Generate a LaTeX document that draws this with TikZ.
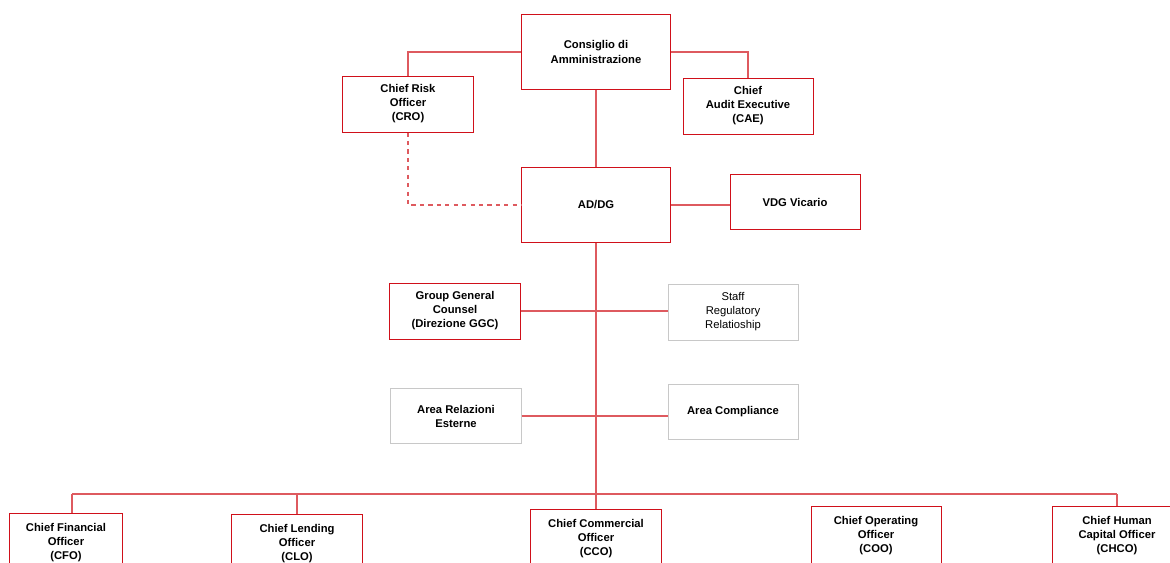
\documentclass[tikz,border=0pt]{standalone}
\usepackage{fontspec}
\setmainfont{Liberation Sans}
\definecolor{boxred}{RGB}{208,16,26}
\definecolor{linkred}{RGB}{222,90,95}
\definecolor{boxgray}{RGB}{200,200,200}

\begin{document}
\begin{tikzpicture}
	[x=0.025cm, y=-0.025cm,
	every node/.style={align=center, inner sep=2pt, fill=white, font=\fontsize{8}{10}\selectfont\bfseries},
	redbox/.style={draw=boxred, line width=0.7pt, minimum width=3.25cm, minimum height=1.4cm},
	graybox/.style={draw=boxgray, line width=0.7pt, minimum width=3.25cm, minimum height=1.4cm},
	bigbox/.style={redbox, minimum width=3.7cm, minimum height=1.875cm},
	lowbox/.style={redbox, minimum height=1.5cm},
	link/.style={draw=linkred, line width=0.8pt}]
	\useasboundingbox (0,0) rectangle (1170,562);
	\clip (0,0) rectangle (1170,562);
	\coordinate (busL) at (72,494);
	\coordinate (busR) at (1117,494);
	\draw[link] (busL) -- (busR);
	\node[bigbox] (cda) at (596,52) {Consiglio di\\Amministrazione};
	\node[redbox] (cro) at (408,104) {Chief Risk\\Officer\\(CRO)};
	\node[redbox] (cae) at (748,106) {Chief\\Audit Executive\\(CAE)};
	\node[bigbox] (ad) at (596,205) {AD/DG};
	\node[redbox, minimum height=1.375cm] (vdg) at (795,202) {VDG Vicario};
	\node[redbox] (ggc) at (455,311) {Group General\\Counsel\\(Direzione GGC)};
	\node[graybox, font=\fontsize{8}{10}\selectfont] (staff) at (733,312) {Staff\\Regulatory\\Relatioship};
	\node[graybox, minimum height=1.375cm] (ext) at (456,416) {Area Relazioni\\Esterne};
	\node[graybox, minimum height=1.375cm] (comp) at (733,412) {Area Compliance};
	\node[lowbox, minimum width=2.8cm] (cfo) at (66,543) {Chief Financial\\Officer\\(CFO)};
	\node[lowbox] (clo) at (297,544) {Chief Lending\\Officer\\(CLO)};
	\node[lowbox] (cco) at (596,539) {Chief Commercial\\Officer\\(CCO)};
	\node[lowbox] (coo) at (876,536) {Chief Operating\\Officer\\(COO)};
	\node[lowbox] (chco) at (1117,536) {Chief Human\\Capital Officer\\(CHCO)};
	\draw[link] (cro.north) |- (cda.west);
	\draw[link] (cda.east) -| (cae.north);
	\draw[link] (cda) -- (ad);
	\draw[link, dashed] (cro.south) |- (ad.west);
	\draw[link] (ad.east -| vdg.west) -- (ad.east);
	\draw[link] (ad) -- (cco);
	\draw[link] (ggc.east) -- (ggc.east -| staff.west);
	\draw[link] (ext.east) -- (ext.east -| comp.west);
	\draw[link] (busL) -- (busL |- cfo.north);
	\draw[link] (clo.north) -- (clo.north |- busL);
	\draw[link] (busR) -- (chco.north);
\end{tikzpicture}
\end{document}
